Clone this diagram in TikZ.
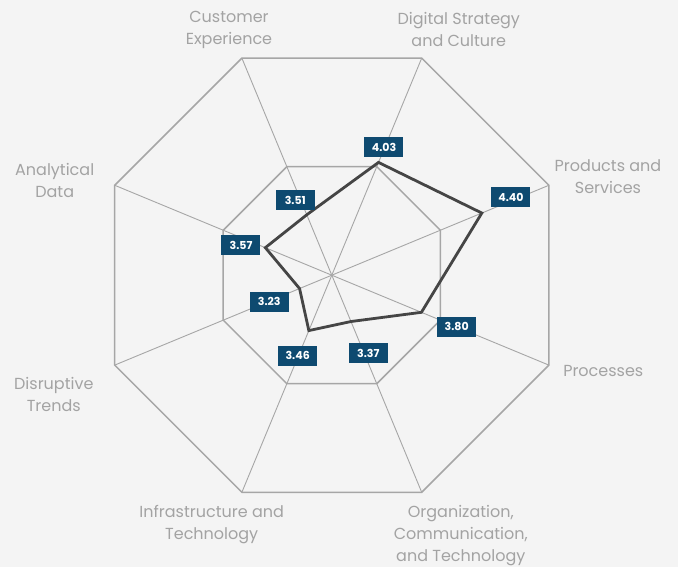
\documentclass[tikz,border=0pt]{standalone}
\usepackage{fontspec}
\setmainfont{Poppins}
\usepackage{tikz}
\usetikzlibrary{positioning, calc}
\definecolor{bggray}{HTML}{F4F4F4}
\definecolor{gridgray}{HTML}{A6A6A6}
\definecolor{textgray}{HTML}{A3A3A3}
\definecolor{scoreblue}{HTML}{0E4A70}
\definecolor{linegray}{HTML}{454545}

\begin{document}
\begin{tikzpicture}[
        x=1pt, y=1pt,
        ring/.style={draw=gridgray, line width=1.5pt, line join=miter},
        spoke/.style={draw=gridgray, line width=0.9pt},
        scoreline/.style={draw=linegray, line width=2.8pt, line join=miter},
        score/.style={rectangle, fill=scoreblue, text=white, minimum width=39pt, minimum height=20pt, inner sep=0pt, font=\fontsize{11}{12}\selectfont\bfseries},
        axislabel/.style={align=center, text=textgray, font=\fontsize{16}{22}\selectfont}
    ]
    \fill[bggray] (-331.8,-291.8) rectangle (346.2,275.2);
    \useasboundingbox (-331.8,-291.8) rectangle (346.2,275.2);

    \coordinate (c) at (0,0);
    \foreach \k in {1,...,8} {
        \coordinate (o\k) at ({112.5-45*(\k-1)}:235);
        \coordinate (i\k) at ({112.5-45*(\k-1)}:117.5);
    }

    \foreach \k in {1,...,8} {
        \draw[spoke] (c) -- (o\k);
    }
    \draw[ring] (o1) \foreach \k in {2,...,8} {-- (o\k)} -- cycle;
    \draw[ring] (i1) \foreach \k in {2,...,8} {-- (i\k)} -- cycle;

    \foreach \k/\v in {1/3.51, 2/4.03, 3/4.40, 4/3.80, 5/3.37, 6/3.46, 7/3.23, 8/3.57} {
        \coordinate (p\k) at ({112.5-45*(\k-1)}:{109*(\v-2.91)});
    }
    \draw[scoreline] (p1) \foreach \k in {2,...,8} {-- (p\k)} -- cycle;

    \foreach \k/\v/\x/\y in {1/3.51/-36.5/75.2, 2/4.03/52.2/127.9, 3/4.40/179.2/77.9, 4/3.80/124.9/-51.5,
                             5/3.37/36.5/-78.1, 6/3.46/-34.1/-80.5, 7/3.23/-62.5/-26.5, 8/3.57/-90.8/30.2} {
        \node[score] (s\k) at (\x,\y) {\v};
    }

    \node[axislabel] (a1) at (-102.8,245.6) {Customer\\Experience};
    \node[axislabel] (a2) at (127,245.6) {Digital Strategy\\and Culture};
    \node[axislabel] (a3) at (276.2,98.4) {Products and\\Services};
    \node[axislabel] (a4) at (271.5,-95.3) {Processes};
    \node[axislabel] (a5) at (129,-260.4) {Organization,\\Communication,\\and Technology};
    \node[axislabel] (a6) at (-120.1,-249.2) {Infrastructure and\\Technology};
    \node[axislabel] (a7) at (-278,-119.0) {Disruptive\\Trends};
    \node[axislabel] (a8) at (-277.1,95.2) {Analytical\\Data};
\end{tikzpicture}
\end{document}
